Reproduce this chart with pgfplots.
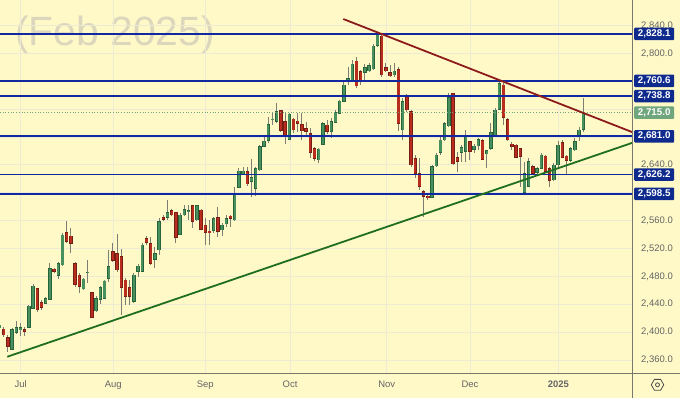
\documentclass[border=0pt]{standalone}
\usepackage{pgfplots}
\pgfplotsset{compat=1.18}
\usepackage{pgfplotstable}
\usepackage{fontspec}
\setmainfont{Liberation Sans}
\usetikzlibrary{shapes.geometric}

\definecolor{bg}{RGB}{255,249,200}
\definecolor{gridc}{RGB}{238,235,212}
\definecolor{lvl}{RGB}{18,40,160}
\definecolor{boxb}{RGB}{14,42,140}
\definecolor{boxg}{RGB}{112,166,126}
\definecolor{upf}{RGB}{72,145,95}
\definecolor{upb}{RGB}{38,98,58}
\definecolor{dnf}{RGB}{185,45,30}
\definecolor{dnb}{RGB}{118,30,20}
\definecolor{wick}{RGB}{125,125,115}
\definecolor{tred}{RGB}{140,28,28}
\definecolor{tgreen}{RGB}{30,110,30}
\definecolor{axisg}{RGB}{120,120,110}
\definecolor{tickc}{RGB}{100,100,100}
\definecolor{wm}{RGB}{220,215,188}

% i open high low close
\pgfplotstableread{
i o h l c
-1 2405.9 2414.5 2401.6 2410.2
2 2375.4 2405.5 2374.4 2404.1
3 2399.2 2416.0 2397.3 2406.4
4 2403.1 2412.7 2394.4 2406.4
6 2406.9 2438.9 2405.9 2437.5
7 2434.2 2469.1 2432.8 2466.2
10 2441.4 2450.0 2440.4 2448.6
11 2447.1 2498.8 2446.1 2491.6
13 2481.0 2501.1 2475.8 2498.8
14 2496.4 2541.9 2494.9 2539.4
19 2461.9 2477.7 2460.5 2476.3
20 2485.3 2503.5 2470.1 2486.3
22 2430.3 2451.9 2428.9 2448.6
23 2447.1 2466.2 2440.4 2464.3
24 2448.6 2474.8 2447.6 2473.4
25 2477.3 2517.9 2472.4 2493.9
31 2443.7 2484.9 2441.8 2482.0
32 2486.7 2497.4 2479.6 2494.9
33 2486.7 2527.9 2486.3 2525.1
36 2504.5 2522.6 2491.6 2513.1
37 2517.9 2563.4 2510.7 2558.5
39 2564.8 2589.6 2561.0 2571.4
42 2540.4 2570.6 2539.4 2568.1
43 2568.1 2582.5 2566.7 2576.3
44 2573.4 2582.5 2561.0 2574.3
46 2561.0 2582.5 2559.9 2581.5
50 2545.6 2565.7 2541.9 2563.4
52 2546.6 2556.6 2538.0 2553.8
53 2555.2 2568.1 2551.3 2563.4
55 2561.0 2608.7 2559.5 2599.3
56 2607.9 2635.2 2606.4 2631.3
57 2626.5 2637.4 2625.5 2631.3
59 2615.9 2648.1 2594.4 2621.7
60 2606.4 2637.4 2595.4 2635.2
61 2632.7 2668.6 2631.7 2666.1
62 2666.1 2681.5 2665.3 2674.3
63 2674.8 2709.2 2671.9 2698.3
64 2704.9 2716.4 2697.3 2705.5
65 2702.0 2729.3 2700.6 2716.4
68 2676.8 2714.9 2675.8 2713.1
75 2647.1 2664.3 2642.3 2662.8
76 2669.6 2702.0 2668.6 2699.7
78 2687.7 2707.8 2678.2 2702.0
79 2701.2 2718.8 2699.7 2715.5
80 2713.5 2733.2 2712.6 2731.7
81 2730.7 2758.6 2729.9 2754.7
82 2760.4 2781.0 2754.7 2764.3
83 2759.4 2790.6 2758.6 2784.8
86 2772.4 2784.4 2759.4 2779.5
87 2774.8 2785.9 2773.8 2782.4
88 2777.7 2813.1 2776.2 2810.7
89 2811.1 2828.9 2809.7 2826.5
93 2769.1 2785.9 2766.6 2774.8
95 2690.1 2735.6 2675.8 2730.7
102 2593.5 2639.9 2592.1 2637.4
103 2638.4 2656.7 2637.4 2654.2
104 2657.5 2680.5 2654.2 2675.8
105 2675.8 2702.0 2674.8 2699.7
106 2695.9 2742.8 2694.0 2737.1
109 2657.5 2668.6 2644.6 2665.3
110 2659.0 2690.1 2644.6 2680.5
112 2662.4 2670.0 2656.7 2667.2
113 2667.2 2678.2 2661.4 2676.8
115 2655.7 2661.4 2635.2 2660.4
116 2663.9 2699.7 2661.4 2686.2
117 2682.9 2721.3 2681.5 2718.8
118 2719.8 2759.4 2718.8 2757.1
124 2600.1 2644.6 2596.8 2628.0
125 2608.7 2649.5 2607.9 2644.6
127 2628.8 2636.6 2627.0 2635.2
128 2635.2 2656.7 2633.7 2654.2
131 2618.4 2642.3 2617.4 2639.9
132 2639.9 2674.8 2637.4 2668.6
135 2646.1 2665.3 2644.6 2663.9
136 2661.4 2678.2 2660.4 2673.3
137 2680.5 2694.0 2674.8 2690.1
138 2691.1 2735.6 2687.7 2715.0
}\up

\pgfplotstableread{
i o h l c
0 2404.5 2407.8 2393.4 2395.9
1 2392.0 2395.9 2371.9 2379.1
5 2404.1 2407.8 2394.4 2400.6
8 2462.3 2463.8 2429.3 2431.8
9 2442.8 2446.1 2431.8 2435.1
12 2490.6 2492.5 2485.3 2486.7
15 2543.3 2559.9 2527.5 2529.8
16 2538.0 2549.0 2514.0 2527.5
17 2498.8 2501.1 2465.2 2468.7
18 2482.0 2484.4 2455.7 2465.2
21 2456.6 2458.0 2419.9 2421.3
26 2515.4 2528.4 2501.1 2502.5
27 2513.1 2540.4 2486.7 2489.2
28 2508.3 2519.3 2424.6 2464.3
29 2474.8 2477.7 2438.9 2450.9
30 2464.3 2474.8 2438.9 2450.9
34 2534.7 2538.0 2525.1 2528.4
35 2527.5 2537.0 2496.4 2498.8
38 2564.8 2568.1 2559.9 2561.9
40 2574.3 2576.3 2566.7 2568.1
41 2571.4 2572.9 2528.4 2536.1
45 2581.5 2582.9 2549.5 2558.5
47 2575.3 2576.3 2546.6 2547.6
48 2553.8 2563.8 2525.1 2542.7
49 2544.7 2561.0 2525.1 2544.1
51 2564.8 2579.6 2536.5 2544.1
54 2566.7 2568.1 2551.3 2563.4
58 2630.3 2636.6 2609.7 2612.6
66 2717.8 2718.8 2687.7 2689.1
67 2702.0 2714.1 2670.0 2681.5
69 2705.9 2706.9 2685.4 2690.1
70 2703.0 2714.1 2687.7 2699.2
71 2698.3 2714.1 2675.8 2688.7
72 2692.6 2702.0 2680.5 2687.7
73 2685.4 2692.6 2650.4 2658.1
74 2663.9 2665.7 2645.6 2649.5
77 2697.3 2704.5 2684.0 2687.7
84 2789.2 2795.3 2750.0 2753.3
85 2773.8 2776.2 2754.7 2759.4
90 2825.0 2827.5 2766.6 2769.1
91 2779.5 2785.9 2773.8 2774.8
92 2772.4 2783.4 2765.8 2767.6
94 2777.2 2781.0 2688.7 2699.7
96 2737.9 2741.8 2716.4 2718.8
97 2716.4 2718.8 2637.4 2639.9
98 2649.5 2654.2 2620.8 2628.0
99 2628.0 2649.5 2604.0 2608.7
100 2601.6 2604.0 2565.7 2594.4
101 2595.0 2599.3 2589.6 2594.0
107 2742.8 2743.7 2639.9 2641.3
108 2650.9 2659.0 2630.3 2644.6
111 2673.3 2674.8 2647.1 2659.0
114 2674.8 2676.8 2647.1 2648.1
119 2754.7 2758.0 2697.3 2708.3
120 2705.5 2706.9 2674.8 2675.8
121 2670.0 2673.3 2661.4 2666.1
122 2668.6 2670.0 2649.5 2650.9
123 2663.9 2664.7 2608.7 2651.8
126 2637.4 2639.9 2625.5 2628.0
129 2652.8 2654.2 2628.8 2630.3
130 2635.2 2637.4 2608.7 2617.4
133 2671.9 2675.8 2649.5 2650.9
134 2652.8 2654.2 2625.5 2646.1
}\down

\pgfplotsset{
  wickplot/.style={draw=none, mark=none,
    error bars/.cd, y dir=both, y explicit, error mark=none,
    error bar style={draw=wick, line width=0.9bp}},
  bodyplot/.style 2 args={draw=none, mark=none,
    error bars/.cd, y dir=both, y explicit, error mark=none,
    error bar style={draw=#1, line width=#2}},
}
\tikzset{
  pricebox/.style={anchor=west, xshift=1.3bp, minimum width=40bp, minimum height=12.5bp,
    inner sep=0pt, text=white, rounded corners=1bp,
    font=\fontsize{9.8}{10}\bfseries\selectfont},
}

\begin{document}
\begin{tikzpicture}
\fill[bg] (0,0) rectangle (680bp,398bp);
\node[anchor=base west, inner sep=0pt, text=wm, font=\fontsize{41}{41}\selectfont] at (15bp,352bp) {(Feb 2025)};
\begin{axis}[
  at={(0bp,398bp)}, anchor=north west,
  scale only axis, width=632.7bp, height=373.3bp,
  xmin=-0.88, xmax=149.76, ymin=2340.9, ymax=2876.7,
  clip=false,
  axis line style={draw=none},
  tick style={draw=none}, major tick length=0pt,
  grid=major, major grid style={draw=gridc, line width=0.9bp},
  ytick={2360,2400,2440,2480,2520,2560,2600,2640,2680,2720,2760,2800,2840},
  yticklabels={{2,360.0},{2,400.0},{2,440.0},{2,480.0},{2,520.0},{2,560.0},{},{2,640.0},{},{},{},{2,800.0},{2,840.0}},
  yticklabel pos=right,
  yticklabel style={anchor=west, inner sep=0pt, text=tickc, font=\fontsize{9.5}{10}\selectfont, xshift=8.3bp},
  xtick={4.05,26.1,48,68.17,91.19,111.02,132.05},
  xticklabels={Jul,Aug,Sep,Oct,Nov,Dec,{\bfseries 2025}},
  xticklabel style={anchor=north, inner sep=0pt, text=tickc, font=\fontsize{9.5}{10}\selectfont, yshift=-7.4bp},
]
% wicks
\addplot[wickplot] table[x=i, y expr={(\thisrow{h}+\thisrow{l})/2}, y error expr={(\thisrow{h}-\thisrow{l})/2}] {\up};
\addplot[wickplot] table[x=i, y expr={(\thisrow{h}+\thisrow{l})/2}, y error expr={(\thisrow{h}-\thisrow{l})/2}] {\down};
% bodies
\addplot[bodyplot={upb}{3.3bp}] table[x=i, y expr={(\thisrow{o}+\thisrow{c})/2}, y error expr={abs(\thisrow{o}-\thisrow{c})/2+0.6}] {\up};
\addplot[bodyplot={upf}{2.1bp}] table[x=i, y expr={(\thisrow{o}+\thisrow{c})/2}, y error expr={max(abs(\thisrow{o}-\thisrow{c})/2-0.5,0.2)}] {\up};
\addplot[bodyplot={dnb}{3.3bp}] table[x=i, y expr={(\thisrow{o}+\thisrow{c})/2}, y error expr={abs(\thisrow{o}-\thisrow{c})/2+0.6}] {\down};
\addplot[bodyplot={dnf}{2.1bp}] table[x=i, y expr={(\thisrow{o}+\thisrow{c})/2}, y error expr={max(abs(\thisrow{o}-\thisrow{c})/2-0.5,0.2)}] {\down};
% current price line
\addplot[draw=boxg, dotted, line width=0.7bp] coordinates {(-0.88,2715.0) (149.76,2715.0)};
% levels
\addplot[draw=lvl!70!black, densely dotted, line width=0.6bp] coordinates {(-0.88,2826.9) (149.76,2826.9)};
\addplot[draw=lvl, line width=1.8bp] coordinates {(-0.88,2828.1) (149.76,2828.1)};
\addplot[draw=lvl, line width=1.8bp] coordinates {(-0.88,2760.6) (149.76,2760.6)};
\addplot[draw=lvl, line width=1.8bp] coordinates {(-0.88,2738.8) (149.76,2738.8)};
\addplot[draw=lvl, line width=1.8bp] coordinates {(-0.88,2681.0) (149.76,2681.0)};
\addplot[draw=lvl, line width=1.8bp] coordinates {(-0.88,2626.2) (149.76,2626.2)};
\addplot[draw=lvl, line width=1.8bp] coordinates {(-0.88,2598.5) (149.76,2598.5)};
% trend lines
\addplot[draw=tred, line width=1.8bp] coordinates {(80.86,2849.4) (149.76,2686.8)};
\addplot[draw=tgreen, line width=1.8bp] coordinates {(0.86,2364.7) (149.76,2671.9)};
% price labels
\node[pricebox, fill=boxb] at (axis cs:149.76,2828.1) {2,828.1};
\node[pricebox, fill=boxb] at (axis cs:149.76,2760.6) {2,760.6};
\node[pricebox, fill=boxb] at (axis cs:149.76,2738.8) {2,738.8};
\node[pricebox, fill=boxg] at (axis cs:149.76,2715.0) {2,715.0};
\node[pricebox, fill=boxb] at (axis cs:149.76,2681.0) {2,681.0};
\node[pricebox, fill=boxb] at (axis cs:149.76,2626.2) {2,626.2};
\node[pricebox, fill=boxb] at (axis cs:149.76,2598.5) {2,598.5};
\end{axis}
\draw[axisg, line width=0.9bp] (0bp,24.7bp) -- (680bp,24.7bp);
\draw[axisg, line width=0.9bp] (632.7bp,0bp) -- (632.7bp,398bp);
\node[regular polygon, regular polygon sides=6, draw=black!70, minimum size=12.5bp, inner sep=0pt, line width=0.8bp] at (657.5bp,13.2bp) {};
\draw[black!70, line width=0.8bp] (657.5bp,13.2bp) circle (2bp);
\pgfresetboundingbox
\path[use as bounding box] (0bp,0bp) rectangle (680bp,398bp);
\end{tikzpicture}
\end{document}
